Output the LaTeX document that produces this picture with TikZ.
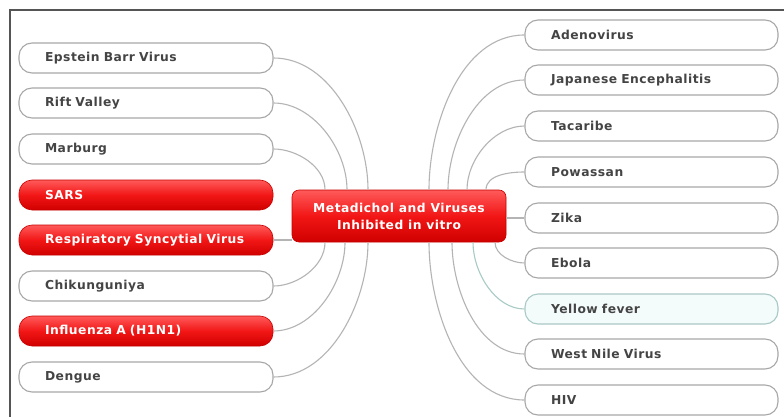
\documentclass[tikz,border=0pt]{standalone}
\usepackage{fontspec}
\setmainfont{DejaVu Sans}
\newfontfamily\wide[LetterSpace=4]{DejaVu Sans}
\definecolor{frame}{HTML}{555555}
\definecolor{leafline}{HTML}{A8A8A8}
\definecolor{conn}{HTML}{B4B4B4}
\definecolor{txt}{HTML}{444444}
\definecolor{redtop}{HTML}{FF5A5A}
\definecolor{redmid}{HTML}{F21616}
\definecolor{redbot}{HTML}{D00000}
\definecolor{redline}{HTML}{C80000}
\definecolor{yfill}{HTML}{F4FBFB}
\definecolor{yline}{HTML}{A9C9C6}
\definecolor{yconn}{HTML}{A9CBC6}
\tikzset{
  leaf/.style={draw=leafline, line width=1.1pt, fill=white, rounded corners=13pt,
    minimum height=30pt, inner xsep=26pt, align=left,
    font=\wide\fontsize{12.3}{14}\selectfont\bfseries, text=txt},
  lleaf/.style={leaf, text width=202pt},
  rleaf/.style={leaf, text width=201pt},
  redleaf/.style={lleaf, draw=redline, line width=0.6pt, top color=redtop, bottom color=redbot, middle color=redmid, text=white},
  hub/.style={draw=redline, line width=0.6pt, top color=redtop, bottom color=redbot, middle color=redmid,
    rounded corners=7pt, minimum width=214pt, minimum height=52pt, inner xsep=2pt, align=center,
    font=\wide\fontsize{12.3}{17}\selectfont\bfseries, text=white},
  conn/.style={draw=conn, line width=1.1pt},
}
\begin{document}
\begin{tikzpicture}[x=1pt,y=-1pt]
\useasboundingbox (0,0) rectangle (784,417);
\fill[white] (0,0) rectangle (784,417);
\draw[frame, line width=1.3pt] (10,417) -- (10,10) -- (784,10);

\node[hub] (c) at (399,216) {Metadichol and Viruses\\Inhibited in vitro};

% left leaves
\node[lleaf] (l1) at (146,58) {Epstein Barr Virus};
\node[lleaf] (l2) at (146,103) {Rift Valley};
\node[lleaf] (l3) at (146,149) {Marburg};
\node[redleaf] (l4) at (146,195) {SARS};
\node[redleaf] (l5) at (146,240) {Respiratory Syncytial Virus};
\node[lleaf] (l6) at (146,286) {Chikunguniya};
\node[redleaf] (l7) at (146,331) {Influenza A (H1N1)};
\node[lleaf] (l8) at (146,377) {Dengue};

% right leaves
\node[rleaf] (r1) at (651.5,35) {Adenovirus};
\node[rleaf] (r2) at (651.5,80) {Japanese Encephalitis};
\node[rleaf] (r3) at (651.5,126) {Tacaribe};
\node[rleaf] (r4) at (651.5,172) {Powassan};
\node[rleaf] (r5) at (651.5,218) {Zika};
\node[rleaf] (r6) at (651.5,263) {Ebola};
\node[rleaf, fill=yfill, draw=yline] (r7) at (651.5,309) {Yellow fever};
\node[rleaf] (r8) at (651.5,354) {West Nile Virus};
\node[rleaf] (r9) at (651.5,400) {HIV};

% anchor points on hub
\coordinate (t1) at ([xshift=-31pt]c.north);
\coordinate (t2) at ([xshift=-52pt]c.north);
\coordinate (t3) at ([xshift=-74pt]c.north);
\coordinate (b1) at ([xshift=-74pt]c.south);
\coordinate (b2) at ([xshift=-54pt]c.south);
\coordinate (b3) at ([xshift=-31pt]c.south);
\coordinate (rt1) at ([xshift=30pt]c.north);
\coordinate (rt2) at ([xshift=49pt]c.north);
\coordinate (rt3) at ([xshift=68pt]c.north);
\coordinate (rt4) at ([xshift=87pt]c.north);
\coordinate (rb1) at ([xshift=96pt]c.south);
\coordinate (rb2) at ([xshift=74pt]c.south);
\coordinate (rb3) at ([xshift=53pt]c.south);
\coordinate (rb4) at ([xshift=30pt]c.south);

\draw[conn] (l1.east) to[out=0,in=90,looseness=0.9] (t1);
\draw[conn] (l2.east) to[out=0,in=90,looseness=0.9] (t2);
\draw[conn] (l3.east) to[out=0,in=90,looseness=0.9] (t3);
\draw[conn] (l5.east) -- (c.west |- l5.east);
\draw[conn] (l6.east) to[out=0,in=-90,looseness=0.9] (b1);
\draw[conn] (l7.east) to[out=0,in=-90,looseness=0.9] (b2);
\draw[conn] (l8.east) to[out=0,in=-90,looseness=0.9] (b3);
\draw[conn] (r1.west) to[out=180,in=90,looseness=0.9] (rt1);
\draw[conn] (r2.west) to[out=180,in=90,looseness=0.9] (rt2);
\draw[conn] (r3.west) to[out=180,in=90,looseness=0.9] (rt3);
\draw[conn] (r4.west) to[out=180,in=90,looseness=0.9] (rt4);
\draw[conn] (r5.west) -- (c.east |- r5.west);
\draw[conn] (r6.west) to[out=180,in=-90,looseness=0.9] (rb1);
\draw[conn, draw=yconn] (r7.west) to[out=180,in=-90,looseness=0.9] (rb2);
\draw[conn] (r8.west) to[out=180,in=-90,looseness=0.9] (rb3);
\draw[conn] (r9.west) to[out=180,in=-90,looseness=0.9] (rb4);
\end{tikzpicture}
\end{document}
